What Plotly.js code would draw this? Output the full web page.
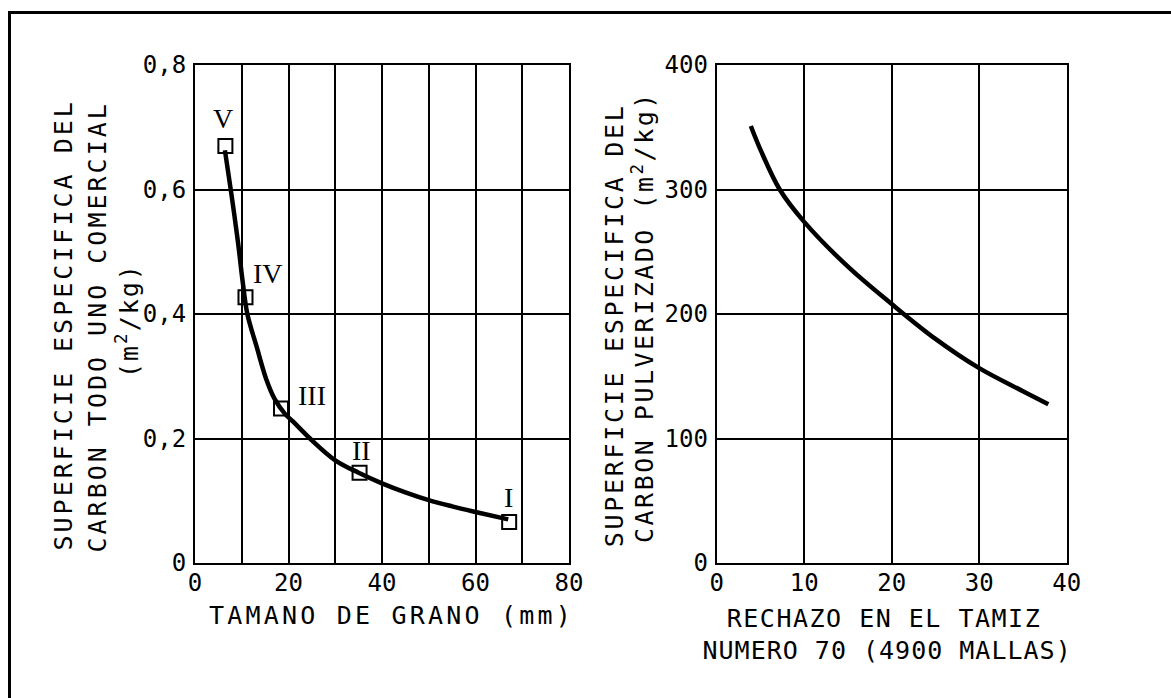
<!DOCTYPE html>
<html>
<head>
<meta charset="utf-8">
<script src="https://cdn.plot.ly/plotly-3.0.1.min.js"></script>
<style>
html,body{margin:0;padding:0;background:#fff;}
#chart{width:1171px;height:698px;}
</style>
</head>
<body>
<div id="chart"></div>
<script>
// ---- data ----
// left chart: specific surface of run-of-mine coal vs grain size
const grainCurveX = [6.4, 7.8, 9.2, 10.2, 11.2, 13.2, 15.3, 17, 19.2, 21, 24.6, 30, 35, 40, 45, 50, 55, 60, 67];
const grainCurveY = [0.663, 0.592, 0.515, 0.452, 0.400, 0.347, 0.294, 0.264, 0.240, 0.227, 0.200, 0.165, 0.145, 0.128, 0.1135, 0.101, 0.091, 0.082, 0.070];
const sampleX = [67.2, 35.2, 18.4, 10.8, 6.5];
const sampleY = [0.066, 0.145, 0.248, 0.427, 0.670];
const sampleLabels = ['I', 'II', 'III', 'IV', 'V'];
// right chart: specific surface of pulverized coal vs sieve reject
const rejectX = [3.9, 5, 7.2, 10, 15, 20, 25, 30, 35, 37.9];
const surfaceY = [351, 332, 300, 274, 238, 208, 180, 156.5, 138, 127.6];
// titles
const leftXTitle = 'TAMANO DE GRANO (mm)';
const leftYTitle1 = 'SUPERFICIE ESPECIFICA DEL';
const leftYTitle2 = 'CARBON TODO UNO COMERCIAL';
const unitTitle = '(m<sup>2</sup>/kg)';
const rightYTitle1 = 'SUPERFICIE ESPECIFICA DEL';
const rightYTitle2 = 'CARBON PULVERIZADO ';
const rightXTitle1 = 'RECHAZO EN EL TAMIZ';
const rightXTitle2 = 'NUMERO 70 (4900 MALLAS)';

// ---- layout helpers ----
const W = 1171, H = 698;
const px = v => v / W;
const py = v => 1 - v / H;
const FONT = 'DejaVu Sans Mono, monospace';

// label offsets (pixels) for the roman-numeral markers
const labelShift = [[-1, 24], [2, 22], [31, 13], [23, 24], [-2, 27]];

const traces = [
  {x: grainCurveX, y: grainCurveY, xaxis: 'x', yaxis: 'y', mode: 'lines',
   line: {color: '#000', width: 4.5, shape: 'spline', smoothing: 1}},
  {x: sampleX, y: sampleY, xaxis: 'x', yaxis: 'y', mode: 'markers',
   marker: {symbol: 'square-open', size: 14, color: '#000', line: {width: 2, color: '#000'}}},
  {x: rejectX, y: surfaceY, xaxis: 'x2', yaxis: 'y2', mode: 'lines',
   line: {color: '#000', width: 4.5, shape: 'spline', smoothing: 1}}
];

const axisBase = {
  showline: true, mirror: true, linecolor: '#000', linewidth: 2,
  showgrid: true, gridcolor: '#000', gridwidth: 2, zeroline: false,
  ticks: '', fixedrange: true,
  tickfont: {family: FONT, size: 24, color: '#000'}
};

const annotations = [];
const spacing = [];
sampleLabels.forEach((t, i) => {
  annotations.push({x: sampleX[i], y: sampleY[i], xref: 'x', yref: 'y', text: t, showarrow: false,
    xshift: labelShift[i][0], yshift: labelShift[i][1],
    font: {family: 'Liberation Serif, serif', size: 28, color: '#000'}});
  spacing.push(0);
});
const titleFont = {family: FONT, size: 25, color: '#000'};
function title(x, y, text, angle, ls) {
  annotations.push({x: px(x), y: py(y), xref: 'paper', yref: 'paper', text: text, textangle: angle,
    showarrow: false, font: titleFont, xanchor: 'center', yanchor: 'middle'});
  spacing.push(ls);
}
title(391.5, 615.5, leftXTitle, 0, 3.2);
title(884, 618.5, rightXTitle1, 0, 1.5);
title(887, 650.5, rightXTitle2, 0, 1.0);
title(63, 325, leftYTitle1, -90, 3.0);
title(97, 327, leftYTitle2, -90, 3.0);
title(127, 321, unitTitle, -90, 2.0);
title(614, 325.5, rightYTitle1, -90, 2.7);
title(643, 317.5, rightYTitle2 + unitTitle, -90, 2.5);

const layout = {
  width: W, height: H,
  margin: {l: 0, r: 0, t: 0, b: 0},
  paper_bgcolor: '#fff', plot_bgcolor: '#fff',
  showlegend: false, separators: ', ',
  xaxis: Object.assign({}, axisBase, {domain: [px(195), px(569)], range: [0, 80], dtick: 20, tick0: 0,
    ticklabelstandoff: -3,
    minor: {dtick: 10, showgrid: true, gridcolor: '#000', gridwidth: 2}, anchor: 'y'}),
  yaxis: Object.assign({}, axisBase, {domain: [py(563), py(65)], range: [0, 0.8], dtick: 0.2, tick0: 0,
    ticklabelstandoff: 2, anchor: 'x'}),
  xaxis2: Object.assign({}, axisBase, {domain: [px(716.7), px(1066.7)], range: [0, 40], dtick: 10, tick0: 0,
    ticklabelstandoff: -3, anchor: 'y2'}),
  yaxis2: Object.assign({}, axisBase, {domain: [py(563), py(65)], range: [0, 400], dtick: 100, tick0: 0,
    ticklabelstandoff: 2, anchor: 'x2'}),
  annotations: annotations,
  shapes: [
    {type: 'line', xref: 'paper', yref: 'paper', x0: px(9.5), x1: px(9.5), y0: 0, y1: py(12.5), line: {color: '#000', width: 3}},
    {type: 'line', xref: 'paper', yref: 'paper', x0: px(8), x1: 1, y0: py(12.5), y1: py(12.5), line: {color: '#000', width: 3}}
  ]
};

Plotly.newPlot('chart', traces, layout, {displayModeBar: false, staticPlot: true}).then(gd => {
  // widen the character pitch of the titles to match the drafting lettering
  gd.querySelectorAll('g.annotation').forEach(g => {
    const i = +g.getAttribute('data-index');
    const t = g.querySelector('text.annotation-text');
    if (t && spacing[i]) t.style.letterSpacing = spacing[i] + 'px';
  });
});
</script>
</body>
</html>
